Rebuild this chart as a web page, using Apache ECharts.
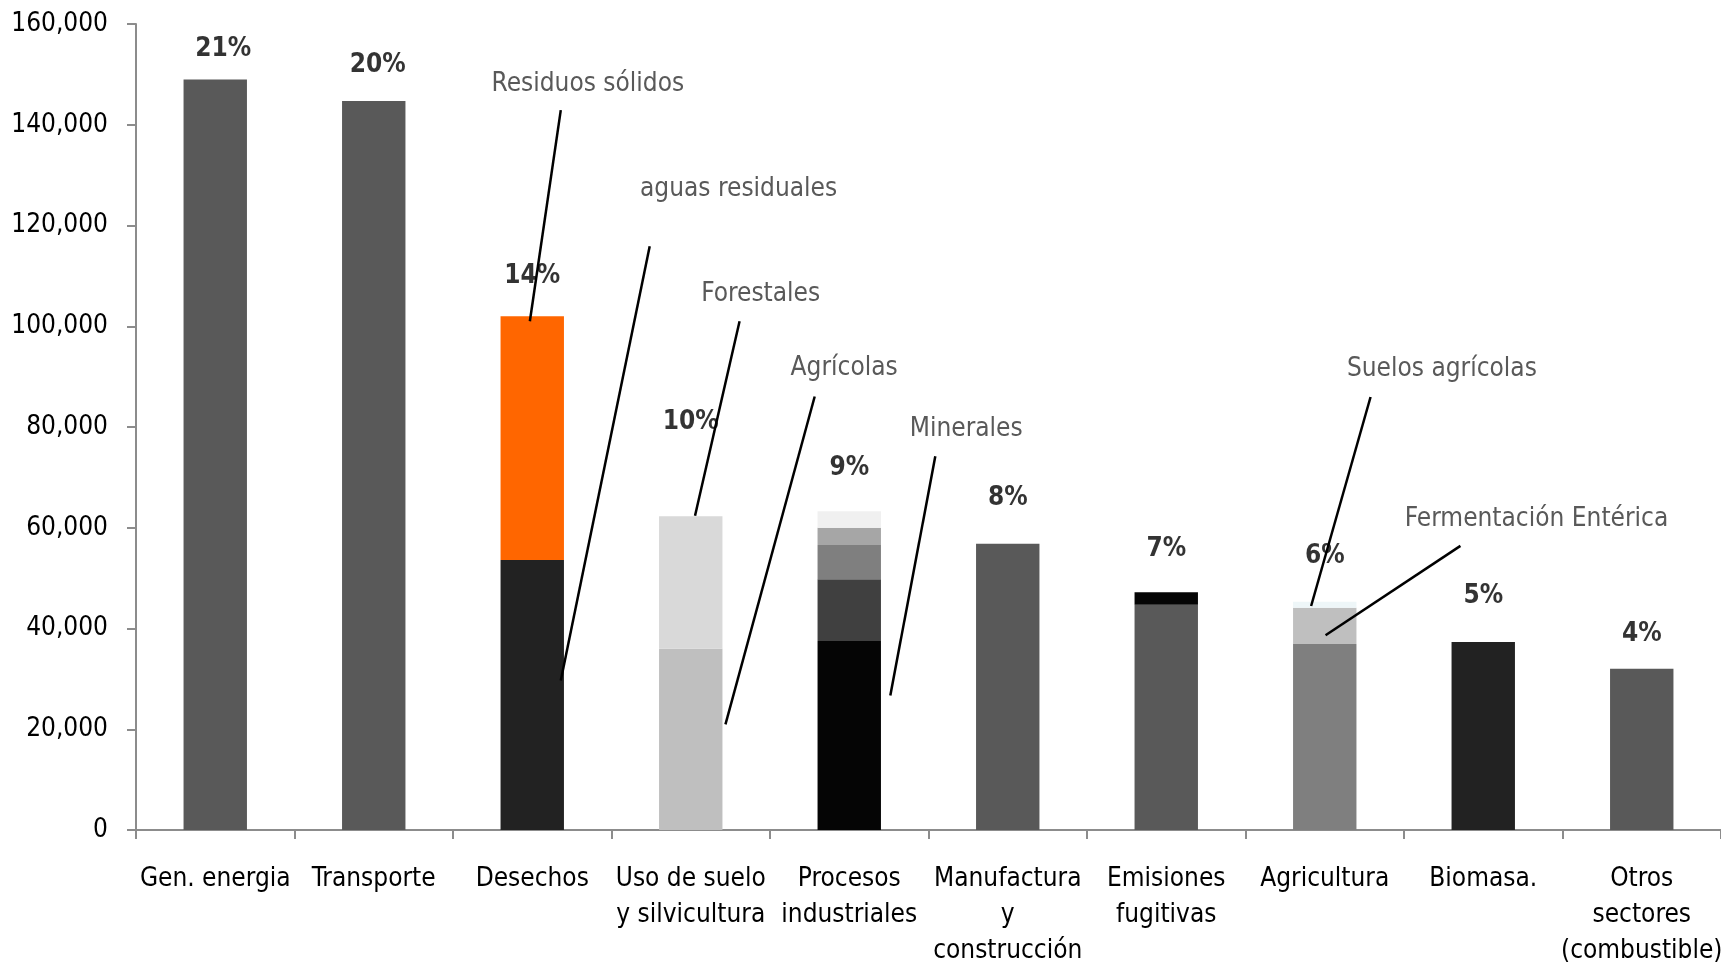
<!DOCTYPE html>
<html>
<head>
<meta charset="utf-8">
<script src="https://cdn.jsdelivr.net/npm/echarts@6/dist/echarts.min.js"></script>
<style>
  html, body { margin: 0; padding: 0; background: #ffffff; }
  #chart { width: 1721px; height: 967px; }
</style>
</head>
<body>
<div id="chart"></div>
<script>
// Sector categories (x axis)
const categories = [
  'Gen. energia', 'Transporte', 'Desechos', 'Uso de suelo\ny silvicultura',
  'Procesos\nindustriales', 'Manufactura\ny\nconstrucción', 'Emisiones\nfugitivas',
  'Agricultura', 'Biomasa.', 'Otros\nsectores\n(combustible)'
];

// Emissions by stacked component ('-' = no segment)
const layer1 = [149000, 144700, 53600, 36000, 37500, 56800, 44700, 36900, 37300, 32000];
const layer2 = ['-', '-', 48400, 26300, 12300, '-', 2500, 7200, '-', '-'];
const layer3 = ['-', '-', '-', '-', 6800, '-', '-', 1200, '-', '-'];
const layer4 = ['-', '-', '-', '-', 3400, '-', '-', '-', '-', '-'];
const layer5 = ['-', '-', '-', '-', 3300, '-', '-', '-', '-', '-'];

// Share of total per sector
const shares = ['21%', '20%', '14%', '10%', '9%', '8%', '7%', '6%', '5%', '4%'];

// Y axis ticks
const yTicks = [0, 20000, 40000, 60000, 80000, 100000, 120000, 140000, 160000];

// Segment colours per layer
const colors1 = ['#595959', '#595959', '#222222', '#bfbfbf', '#050505', '#595959', '#595959', '#7f7f7f', '#222222', '#595959'];
const colors2 = [null, null, '#ff6600', '#d9d9d9', '#404040', null, '#050505', '#bfbfbf', null, null];
const colors3 = [null, null, null, null, '#7f7f7f', null, null, '#eef6f8', null, null];
const colors4 = [null, null, null, null, '#a6a6a6', null, null, null, null, null];
const colors5 = [null, null, null, null, '#f0f0f0', null, null, null, null, null];

// Label gap above each bar (px) and horizontal nudge
const labelGap = [17, 22, 26, 80, 29, 32, 29, 32, 32, 21];
const labelNudge = [8, 4, 0, 0, 0, 0, 0, 0, 0, 0];

// Callouts: text anchor and leader line, in [category position, value]
const callouts = [
  { text: 'Residuos sólidos', at: [2.351, 148700], from: [2.180, 142900], to: [1.985, 101000] },
  { text: 'aguas residuales', at: [3.302, 127700], from: [2.741, 115900], to: [2.180, 29700] },
  { text: 'Forestales', at: [3.441, 107000], from: [3.308, 101000], to: [3.027, 62400] },
  { text: 'Agrícolas', at: [3.968, 92200], from: [3.782, 86050], to: [3.219, 20960] },
  { text: 'Minerales', at: [4.738, 80200], from: [4.543, 74180], to: [4.259, 26720] },
  { text: 'Suelos agrícolas', at: [7.739, 91990], from: [7.289, 85950], to: [6.914, 44460] },
  { text: 'Fermentación Entérica', at: [8.336, 62350], from: [7.856, 56410], to: [7.005, 38670] }
];

const FONT = "'Liberation Sans Narrow', 'Arial Narrow', 'DejaVu Sans Condensed', sans-serif";
const FS = 26;

function toItems(values, colors) {
  return values.map((v, i) => (v === '-' ? '-' : { value: v, itemStyle: { color: colors[i] } }));
}

function num(v) { return v === '-' ? 0 : v; }
const totals = layer1.map((v, i) => num(v) + num(layer2[i]) + num(layer3[i]) + num(layer4[i]) + num(layer5[i]));

const layers = [[layer1, colors1], [layer2, colors2], [layer3, colors3], [layer4, colors4], [layer5, colors5]];

const barSeries = layers.map(([vals, cols], k) => ({
  type: 'bar',
  name: 'layer' + (k + 1),
  stack: 'total',
  barWidth: '40%',
  data: toItems(vals, cols),
  animation: false
}));

const chart = echarts.init(document.getElementById('chart'), null, { renderer: 'canvas' });

const option = {
  backgroundColor: '#ffffff',
  animation: false,
  grid: { left: 136, right: 0, top: 24, bottom: 137, containLabel: false, outerBoundsMode: 'none' },
  xAxis: {
    type: 'category',
    data: categories,
    axisLine: { lineStyle: { color: '#8c8c8c', width: 2 } },
    axisTick: { show: true, length: 9, interval: 0, lineStyle: { color: '#8c8c8c', width: 2 } },
    axisLabel: {
      interval: 0, margin: 31, color: '#000000', fontSize: FS, lineHeight: 36,
      fontFamily: FONT
    }
  },
  yAxis: {
    type: 'value',
    min: yTicks[0],
    max: yTicks[yTicks.length - 1],
    interval: yTicks[1] - yTicks[0],
    splitLine: { show: false },
    axisLine: { show: true, lineStyle: { color: '#8c8c8c', width: 2 } },
    axisTick: { show: true, length: 9, lineStyle: { color: '#8c8c8c', width: 2 } },
    axisLabel: {
      margin: 28, color: '#000000', fontSize: FS, fontFamily: FONT,
      padding: [4, 0, 0, 0],
      formatter: v => v.toLocaleString('en-US')
    }
  },
  series: barSeries.concat([{
    type: 'scatter',
    name: 'shares',
    symbolSize: 1,
    itemStyle: { color: 'rgba(0,0,0,0)' },
    silent: true,
    data: totals.map((t, i) => ({
      value: t,
      label: {
        show: true, position: 'top', distance: labelGap[i], offset: [labelNudge[i], 0],
        formatter: shares[i], color: '#000000', fontSize: FS, fontWeight: 'bold', fontFamily: FONT
      }
    })),
    z: 5
  }])
};

chart.setOption(option);

// Position callouts from data coordinates
const c0 = chart.convertToPixel({ xAxisIndex: 0 }, 0);
const band = chart.convertToPixel({ xAxisIndex: 0 }, 1) - c0;
function px(p) {
  return [c0 + p[0] * band, chart.convertToPixel({ yAxisIndex: 0 }, p[1])];
}

const graphics = [];
callouts.forEach(c => {
  const a = px(c.from), b = px(c.to), t = px(c.at);
  graphics.push({
    type: 'line', z: 10,
    shape: { x1: a[0], y1: a[1], x2: b[0], y2: b[1] },
    style: { stroke: '#000000', lineWidth: 2.5 }
  });
  graphics.push({
    type: 'text', z: 10, x: t[0], y: t[1] + 3,
    style: {
      text: c.text, fill: '#595959', font: FS + 'px ' + FONT,
      textAlign: 'center', textVerticalAlign: 'middle'
    }
  });
});
chart.setOption({ graphic: graphics });
</script>
</body>
</html>
